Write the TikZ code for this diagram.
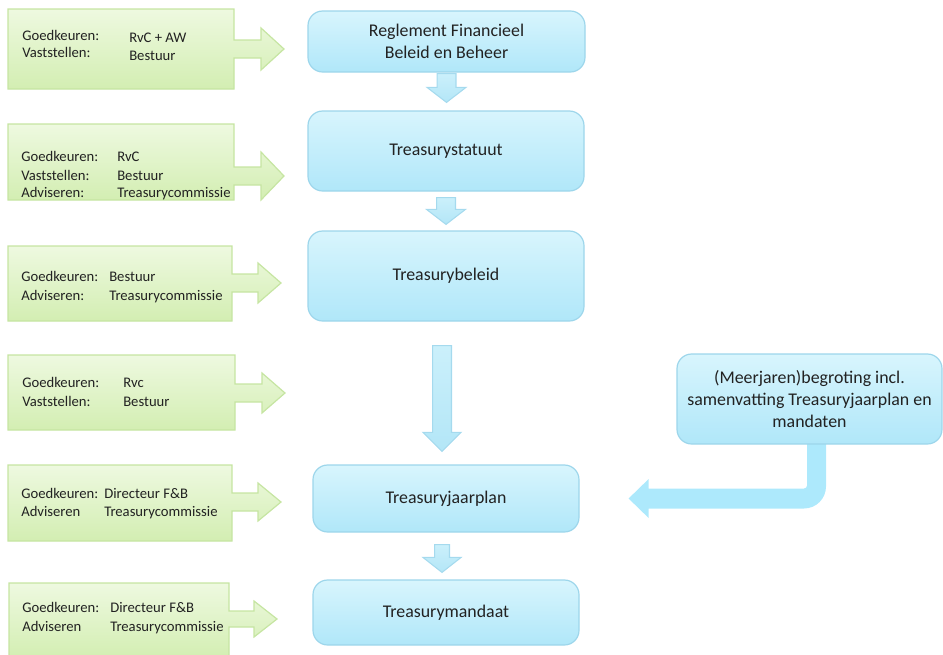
\documentclass[tikz,border=0pt]{standalone}
\usepackage{fontspec}
\setmainfont{Carlito}
\usetikzlibrary{calc,backgrounds}
\definecolor{gtop}{HTML}{EEF9E0}
\definecolor{gbot}{HTML}{D3EEB2}
\definecolor{gline}{HTML}{C6E5A2}
\definecolor{btop}{HTML}{D8F5FD}
\definecolor{bbot}{HTML}{B0E7F9}
\definecolor{bline}{HTML}{9DD6EB}
\definecolor{atop}{HTML}{CBF0FB}
\definecolor{abot}{HTML}{B3E6F7}
\definecolor{aline}{HTML}{A5DAEE}
\definecolor{bent}{HTML}{ADE9FC}
\definecolor{txt}{HTML}{222222}
\newcommand\gcallout[9]{%
  \path[callout] (#1,#2) -- (#3,#2) -- (#3,#5) -- (#7,#5) -- (#7,#6) -- (#8,#9)
    -- (#7,{2*#9-#6}) -- (#7,{2*#9-#5}) -- (#3,{2*#9-#5}) -- (#3,#4) -- (#1,#4) -- cycle;}
\newcommand\dnarrow[5]{%
  \path[dnarrowstyle] let \p1=(#1), \p2=(#2) in
    (\x1-#3,\y1) -- (\x1+#3,\y1) -- (\x1+#3,\y2+#5) -- (\x1+#4,\y2+#5) -- (\x1,\y2)
    -- (\x1-#4,\y2+#5) -- (\x1-#3,\y2+#5) -- cycle;}
\begin{document}
\begin{tikzpicture}[x=0.75pt,y=-0.75pt,
  callout/.style={draw=gline,line width=0.9pt,top color=gtop,bottom color=gbot},
  gtxt/.style={font=\fontsize{11}{13.5}\selectfont,text=txt,inner sep=0pt,anchor=base west},
  bluebox/.style={draw=bline,line width=0.9pt,rounded corners=11pt,top color=btop,bottom color=bbot,
    text=txt,font=\fontsize{13.4}{16.5}\selectfont,align=center,inner sep=2pt},
  dnarrowstyle/.style={draw=aline,line width=0.8pt,top color=atop,bottom color=abot},
  bentstyle/.style={fill=bent}]
\useasboundingbox (0,0) rectangle (943,654);
% green callouts: x1,y1,x2,y2, shaft top, head top, head base x, tip x, tip y
\gcallout{8}{9}{234}{89}{40}{28}{261}{284}{49}
\gcallout{8}{124}{234}{200}{167}{152}{261}{284}{176}
\gcallout{8}{246}{232}{321}{274}{263}{258}{281}{283}
\gcallout{8}{355}{235}{430}{384}{373}{262}{285}{393}
\gcallout{8}{465}{232}{541}{493}{483}{258}{281}{502}
\gcallout{9}{583}{229}{658}{611}{601}{254}{277}{619}
% green texts
\node[gtxt] (g1a) at (22,40) {Goedkeuren:};
\node[gtxt] (g1b) at (22,57) {Vaststellen:};
\node[gtxt] (g1c) at (129,42) {RvC + AW};
\node[gtxt] (g1d) at (129,60) {Bestuur};
\node[gtxt] (g2a) at (21,161) {Goedkeuren:};
\node[gtxt] (g2b) at (21,180) {Vaststellen:};
\node[gtxt] (g2c) at (21,197) {Adviseren:};
\node[gtxt] (g2d) at (117,161) {RvC};
\node[gtxt] (g2e) at (117,180) {Bestuur};
\node[gtxt] (g2f) at (117,197) {Treasurycommissie};
\node[gtxt] (g3a) at (21,281) {Goedkeuren:};
\node[gtxt] (g3b) at (21,300) {Adviseren:};
\node[gtxt] (g3c) at (109,281) {Bestuur};
\node[gtxt] (g3d) at (109,300) {Treasurycommissie};
\node[gtxt] (g4a) at (22,387) {Goedkeuren:};
\node[gtxt] (g4b) at (22,406) {Vaststellen:};
\node[gtxt] (g4c) at (123,387) {Rvc};
\node[gtxt] (g4d) at (123,406) {Bestuur};
\node[gtxt] (g5a) at (21,498) {Goedkeuren:};
\node[gtxt] (g5b) at (21,516) {Adviseren};
\node[gtxt] (g5c) at (104,498) {Directeur F\&B};
\node[gtxt] (g5d) at (104,516) {Treasurycommissie};
\node[gtxt] (g6a) at (22,612) {Goedkeuren:};
\node[gtxt] (g6b) at (22,631) {Adviseren};
\node[gtxt] (g6c) at (110,612) {Directeur F\&B};
\node[gtxt] (g6d) at (110,631) {Treasurycommissie};
% blue boxes
\node[bluebox,minimum width={277*0.75pt},minimum height={61*0.75pt}] (A) at (446.5,41.5)
  {Reglement Financieel\\Beleid en Beheer};
\node[bluebox,minimum width={276*0.75pt},minimum height={80*0.75pt}] (B) at (446,151) {Treasurystatuut};
\node[bluebox,minimum width={276*0.75pt},minimum height={90*0.75pt}] (C) at (446,276) {Treasurybeleid};
\node[bluebox,minimum width={266*0.75pt},minimum height={67*0.75pt}] (D) at (446,498.5) {Treasuryjaarplan};
\node[bluebox,minimum width={266*0.75pt},minimum height={65*0.75pt}] (E) at (446,612.5) {Treasurymandaat};
\node[bluebox,minimum width={265*0.75pt},minimum height={90*0.75pt}] (F) at (809.5,399)
  {(Meerjaren)begroting incl.\\samenvatting Treasuryjaarplan en\\mandaten};
% down arrows
\dnarrow{$(A.south)+(0,1)$}{$(B.north)+(0,-8)$}{7.1pt}{14.6pt}{11.25pt}
\dnarrow{$(B.south)+(0,6)$}{$(C.north)+(0,-6)$}{7.1pt}{14.6pt}{11.25pt}
\dnarrow{$(C.south)+(-4,24)$}{$(D.north)+(-4,-13)$}{7.1pt}{14.3pt}{14.25pt}
\dnarrow{$(D.south)+(-4,12)$}{$(E.north)+(-4,-7)$}{5.6pt}{14.3pt}{11.25pt}
% bent arrow from F to D
\begin{scope}[on background layer]
\path[bentstyle] let \p1=($(F.south)+(7,-2)$), \p2=($(D.east)+(49,0)$) in
  (\x1-7.125pt,\y1) -- (\x1-7.125pt,\y2+9.75pt)
  .. controls (\x1-7.125pt,\y2+8.5pt) and (\x1-8.1pt,\y2+7.5pt) .. (\x1-9.375pt,\y2+7.5pt)
  -- (\x2+15pt,\y2+7.5pt) -- (\x2+15pt,\y2+14.6pt) -- (\x2,\y2)
  -- (\x2+15pt,\y2-14.6pt) -- (\x2+15pt,\y2-7.5pt)
  -- (\x1+7.125pt-16.5pt,\y2-7.5pt)
  .. controls (\x1+7.125pt-7.39pt,\y2-7.5pt) and (\x1+7.125pt,\y2-0.11pt) .. (\x1+7.125pt,\y2+9pt)
  -- (\x1+7.125pt,\y1) -- cycle;
\end{scope}
\end{tikzpicture}
\end{document}
